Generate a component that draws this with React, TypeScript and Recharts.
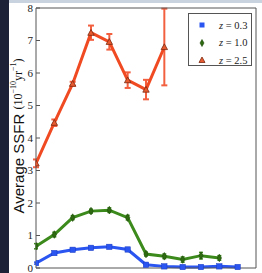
import React from "react";
import { ComposedChart, Line, XAxis, YAxis, ErrorBar, ReferenceLine } from "recharts";

const xIndex = [0, 1, 2, 3, 4, 5, 6, 7, 8, 9, 10, 11];
const z03 = [0.15, 0.46, 0.56, 0.62, 0.65, 0.57, 0.1, 0.05, 0.03, 0.03, 0.05, 0.03];
const z03Err = [0.03, 0.04, 0.03, 0.03, 0.04, 0.04, 0.03, 0.02, 0.02, 0.02, 0.03, 0.02];
const z10 = [0.67, 1.03, 1.55, 1.75, 1.78, 1.55, 0.43, 0.36, 0.26, 0.38, 0.31];
const z10Err = [0.08, 0.07, 0.06, 0.06, 0.07, 0.07, 0.06, 0.07, 0.08, 0.1, 0.07];
const z25 = [3.22, 4.47, 5.67, 7.24, 6.96, 5.78, 5.49, 6.8];
const z25Err = [0.12, 0.1, 0.06, 0.22, 0.24, 0.24, 0.3, 1.18];
const xTicks = [0, 2, 4, 6, 8, 10, 12];
const yTicks = [0, 1, 2, 3, 4, 5, 6, 7, 8];
const seriesLabels = ["0.3", "1.0", "2.5"];

const BLUE = "#2a55f0";
const GREEN = "#3c8a1c";
const RED = "#f04a22";
const SERIF = "'Liberation Serif', 'DejaVu Serif', serif";

const data = xIndex.map((x, i) => ({
  x,
  b: z03[i],
  bErr: z03Err[i],
  g: i < z10.length ? z10[i] : undefined,
  gErr: i < z10Err.length ? z10Err[i] : undefined,
  r: i < z25.length ? z25[i] : undefined,
  rErr: i < z25Err.length ? z25Err[i] : undefined,
}));

const Square = (props: any) => {
  const { cx, cy } = props;
  if (cx == null || cy == null) return null;
  return <rect x={cx - 2.7} y={cy - 2.7} width={5.4} height={5.4} fill={BLUE} stroke="#1a3bc0" strokeWidth={0.5} />;
};
const Diamond = (props: any) => {
  const { cx, cy } = props;
  if (cx == null || cy == null) return null;
  return (
    <path
      d={`M${cx},${cy - 3.8} L${cx + 2.2},${cy} L${cx},${cy + 3.8} L${cx - 2.2},${cy} Z`}
      fill="#2d6a10"
      stroke="#1f4a0a"
      strokeWidth={0.6}
    />
  );
};
const Triangle = (props: any) => {
  const { cx, cy } = props;
  if (cx == null || cy == null) return null;
  return (
    <path
      d={`M${cx},${cy - 3.2} L${cx + 3.2},${cy + 2.6} L${cx - 3.2},${cy + 2.6} Z`}
      fill="#e85a30"
      stroke="#7a2a10"
      strokeWidth={0.8}
    />
  );
};

const LegendMarker = ({ i }: { i: number }) => {
  if (i === 0) return <svg width={8} height={8}><rect x={1.5} y={1.5} width={5} height={5} fill={BLUE} /></svg>;
  if (i === 1)
    return (
      <svg width={8} height={8}>
        <path d="M4,0.5 L6,4 L4,7.5 L2,4 Z" fill="#2d6a10" stroke="#1f4a0a" strokeWidth={0.6} />
      </svg>
    );
  return (
    <svg width={8} height={8}>
      <path d="M4,1 L7,6.5 L1,6.5 Z" fill="#e85a30" stroke="#7a2a10" strokeWidth={0.8} />
    </svg>
  );
};

const LegendBox = () => (
  <div
    style={{
      position: "absolute",
      left: 188,
      top: 13,
      width: 62,
      height: 51,
      border: "1px solid #555",
      background: "#fff",
      boxSizing: "content-box",
      fontFamily: SERIF,
      fontSize: 10.5,
      color: "#222",
    }}
  >
    {seriesLabels.map((lab, i) => (
      <div
        key={lab}
        style={{ position: "absolute", left: 9, top: 6 + i * 17.5, height: 10, display: "flex", alignItems: "center" }}
      >
        <LegendMarker i={i} />
        <span style={{ marginLeft: 13, whiteSpace: "nowrap" }}>
          <i>z</i> = {lab}
        </span>
      </div>
    ))}
  </div>
);

const YLabelSvg = () => (
  <svg width={30} height={273} style={{ position: "absolute", left: 0, top: 0, overflow: "visible", pointerEvents: "none" }}>
    <text transform="translate(18,136) rotate(-90)" textAnchor="middle" dominantBaseline="central" fill="#111">
      <tspan fontFamily="'Liberation Sans', Arial, sans-serif" fontSize={15}>Average SSFR </tspan>
      <tspan fontFamily={SERIF} fontSize={12}>(10</tspan>
      <tspan fontFamily={SERIF} fontSize={8} dy={-5}>−10</tspan>
      <tspan fontFamily={SERIF} fontSize={12} dy={5}>yr</tspan>
      <tspan fontFamily={SERIF} fontSize={8} dy={-5}>−1</tspan>
      <tspan fontFamily={SERIF} fontSize={12} dy={5}>)</tspan>
    </text>
  </svg>
);

const LeftTick = (props: any) => {
  const { x, y, payload } = props;
  if (payload.value === 0) return <g />;
  return (
    <text x={x} y={y} dy={3.8} textAnchor="end" fontFamily={SERIF} fontSize={11} fill="#222">
      {String(payload.value)}
    </text>
  );
};

const ZeroLabel = (props: any) => {
  const vb = props.viewBox || {};
  if (vb.x == null || vb.y == null) return null;
  return (
    <text x={vb.x - 3} y={vb.y} dy={3.8} textAnchor="end" fontFamily={SERIF} fontSize={11} fill="#222">
      {String(yTicks[0])}
    </text>
  );
};

export default function App() {
  return (
    <div style={{ position: "absolute", left: 0, top: 0, width: 262, height: 273, background: "#fff", overflow: "hidden" }}>
      <div style={{ position: "absolute", left: 0, top: 0, width: 262, height: 3, background: "#c9d3df" }} />
      <div style={{ position: "absolute", left: 0, top: 0, width: 9, height: 273, background: "#1c2137" }} />
      <ComposedChart
        width={262}
        height={273}
        data={data}
        margin={{ top: 0, right: 0, bottom: 0, left: 0 }}
        style={{ position: "absolute", left: 0, top: 0, overflow: "visible" }}
      >
        <XAxis
          xAxisId="b"
          dataKey="x"
          type="number"
          domain={[0, 12]}
          ticks={xTicks}
          orientation="bottom"
          height={5}
          tick={false}
          tickSize={-4}
          stroke="#555"
          allowDataOverflow
        />
        <XAxis
          xAxisId="t"
          dataKey="x"
          type="number"
          domain={[0, 12]}
          ticks={xTicks}
          orientation="top"
          height={8}
          tick={false}
          tickSize={-4}
          stroke="#555"
        />
        <YAxis
          yAxisId="l"
          type="number"
          domain={[0, 8]}
          ticks={yTicks}
          interval={0}
          width={36}
          tickSize={-4}
          tickMargin={7}
          tick={<LeftTick />}
          stroke="#555"
        />
        <YAxis
          yAxisId="r"
          orientation="right"
          type="number"
          domain={[0, 8]}
          ticks={yTicks}
          interval={0}
          width={6}
          tick={false}
          tickSize={-4}
          stroke="#555"
        />
        <ReferenceLine xAxisId="b" yAxisId="l" y={yTicks[0]} stroke="none" label={<ZeroLabel />} />
        <Line xAxisId="b" yAxisId="l" dataKey="b" stroke={BLUE} strokeWidth={3} dot={<Square />} isAnimationActive={false}>
          <ErrorBar dataKey="bErr" direction="y" width={2} stroke={BLUE} strokeWidth={1.5} />
        </Line>
        <Line xAxisId="b" yAxisId="l" dataKey="g" stroke={GREEN} strokeWidth={3} dot={<Diamond />} isAnimationActive={false}>
          <ErrorBar dataKey="gErr" direction="y" width={2} stroke={GREEN} strokeWidth={1.5} />
        </Line>
        <Line xAxisId="b" yAxisId="l" dataKey="r" stroke={RED} strokeWidth={3} dot={<Triangle />} isAnimationActive={false}>
          <ErrorBar dataKey="rErr" direction="y" width={3} stroke="#f26040" strokeWidth={2} />
        </Line>
      </ComposedChart>
      <YLabelSvg />
      <LegendBox />
    </div>
  );
}
